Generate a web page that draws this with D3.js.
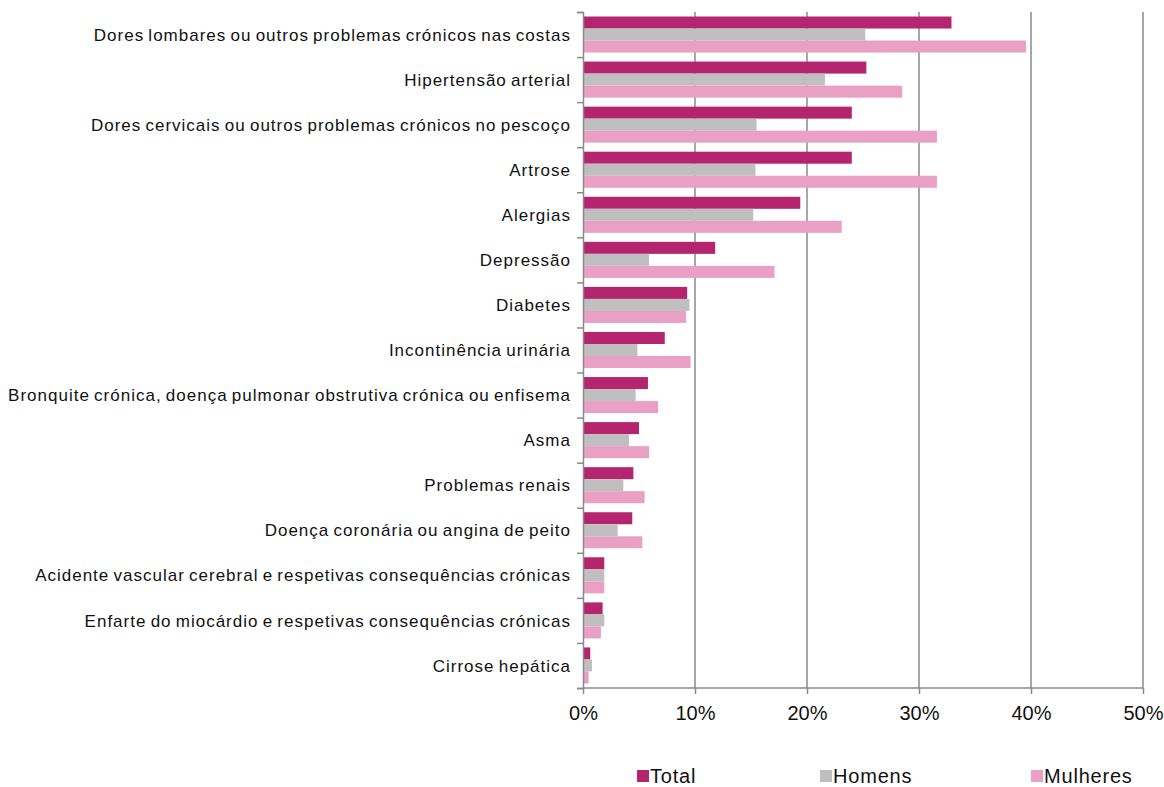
<!DOCTYPE html>
<html>
<head>
<meta charset="utf-8">
<script src="https://cdn.jsdelivr.net/npm/d3@7"></script>
<style>
  body { margin: 0; background: #fff; }
  svg { font-family: 'Liberation Sans', Arial, sans-serif; }
</style>
</head>
<body>
<div id="chart"></div>
<script>
// categories, top to bottom
let categories = [
  'Dores lombares ou outros problemas crónicos nas costas',
  'Hipertensão arterial',
  'Dores cervicais ou outros problemas crónicos no pescoço',
  'Artrose',
  'Alergias',
  'Depressão',
  'Diabetes',
  'Incontinência urinária',
  'Bronquite crónica, doença pulmonar obstrutiva crónica ou enfisema',
  'Asma',
  'Problemas renais',
  'Doença coronária ou angina de peito',
  'Acidente vascular cerebral e respetivas consequências crónicas',
  'Enfarte do miocárdio e respetivas consequências crónicas',
  'Cirrose hepática'
]
let total = [32.9, 25.3, 24.0, 24.0, 19.4, 11.8, 9.3, 7.3, 5.8, 5.0, 4.5, 4.4, 1.9, 1.75, 0.65]
let homens = [25.2, 21.6, 15.5, 15.4, 15.2, 5.9, 9.5, 4.85, 4.7, 4.1, 3.6, 3.1, 1.9, 1.9, 0.8]
let mulheres = [39.55, 28.5, 31.6, 31.6, 23.1, 17.1, 9.2, 9.6, 6.7, 5.9, 5.5, 5.3, 1.9, 1.6, 0.5]
let seriesNames = ['Total', 'Homens', 'Mulheres']
let colors = ['#B5256F', '#BFBFBF', '#EA9FC5']
let xTicks = [0, 10, 20, 30, 40, 50]

let width = 1164
let height = 787
let margin = { left: 583, right: 21, top: 12, bottom: 99 }

let svg = d3.select('#chart').append('svg')
  .attr('width', width)
  .attr('height', height)

let x = d3.scaleLinear().domain([0, 50]).range([margin.left, width - margin.right])
let y = d3.scaleBand().domain(categories).range([margin.top, height - margin.bottom]).paddingInner(0.2).paddingOuter(0.1)
let ySub = d3.scaleBand().domain(seriesNames).range([0, y.bandwidth()])

let rows = categories.map((c, i) => ({ cat: c, vals: [total[i], homens[i], mulheres[i]] }))

// gridlines
svg.append('g').selectAll('line')
  .data(xTicks.slice(1))
  .enter().append('line')
  .attr('x1', d => x(d)).attr('x2', d => x(d))
  .attr('y1', margin.top).attr('y2', height - margin.bottom)
  .attr('stroke', '#8a8a8a')
  .attr('stroke-width', 1.5)

// bars
let groups = svg.append('g').selectAll('g')
  .data(rows)
  .enter().append('g')
  .attr('transform', d => `translate(0,${y(d.cat) - y.step() * y.paddingInner() / 2 + (y.step() - y.bandwidth()) / 2})`)

groups.selectAll('rect')
  .data(d => d.vals.map((v, j) => ({ v: v, s: seriesNames[j], c: colors[j] })))
  .enter().append('rect')
  .attr('x', x(0))
  .attr('y', d => ySub(d.s))
  .attr('width', d => x(d.v) - x(0))
  .attr('height', ySub.bandwidth())
  .attr('fill', d => d.c)

// y axis
let yAxis = d3.axisLeft(d3.scalePoint().domain(d3.range(categories.length + 1)).range([margin.top, height - margin.bottom]))
  .tickSize(6).tickFormat('')
let gy = svg.append('g').attr('transform', `translate(${x(0)},0)`).call(yAxis)
gy.selectAll('path, line').attr('stroke', '#8a8a8a').attr('stroke-width', 1.5)

// category labels
svg.append('g').selectAll('text')
  .data(categories)
  .enter().append('text')
  .attr('x', x(0) - 12)
  .attr('y', d => y(d) + y.bandwidth() / 2)
  .attr('dy', '0.36em')
  .attr('text-anchor', 'end')
  .attr('font-size', '17px')
  .attr('letter-spacing', '1px')
  .attr('word-spacing', '-1.5px')
  .attr('fill', '#111')
  .text(d => d)

// x axis
let xAxis = d3.axisBottom(x).tickValues(xTicks).tickSize(6).tickPadding(12).tickFormat(d => d + '%')
let gx = svg.append('g').attr('transform', `translate(0,${height - margin.bottom})`).call(xAxis)
gx.selectAll('path, line').attr('stroke', '#8a8a8a').attr('stroke-width', 1.5)
gx.select('.domain').attr('d', `M${x(0)},0H${x(50)}`)
gx.selectAll('text').attr('font-size', '20px').attr('fill', '#111').attr('font-family', "'Liberation Sans', Arial, sans-serif")

// legend
let legendX = [637, 820, 1031]
let legend = svg.append('g').selectAll('g')
  .data(seriesNames)
  .enter().append('g')
  .attr('transform', (d, i) => `translate(${legendX[i]},776)`)
legend.append('rect').attr('x', 0).attr('y', -6).attr('width', 12).attr('height', 12).attr('fill', (d, i) => colors[i])
legend.append('text').attr('x', 13).attr('y', 0).attr('dy', '0.36em')
  .attr('font-size', '20px').attr('letter-spacing', '0.8px').attr('fill', '#111').text(d => d)
</script>
</body>
</html>
